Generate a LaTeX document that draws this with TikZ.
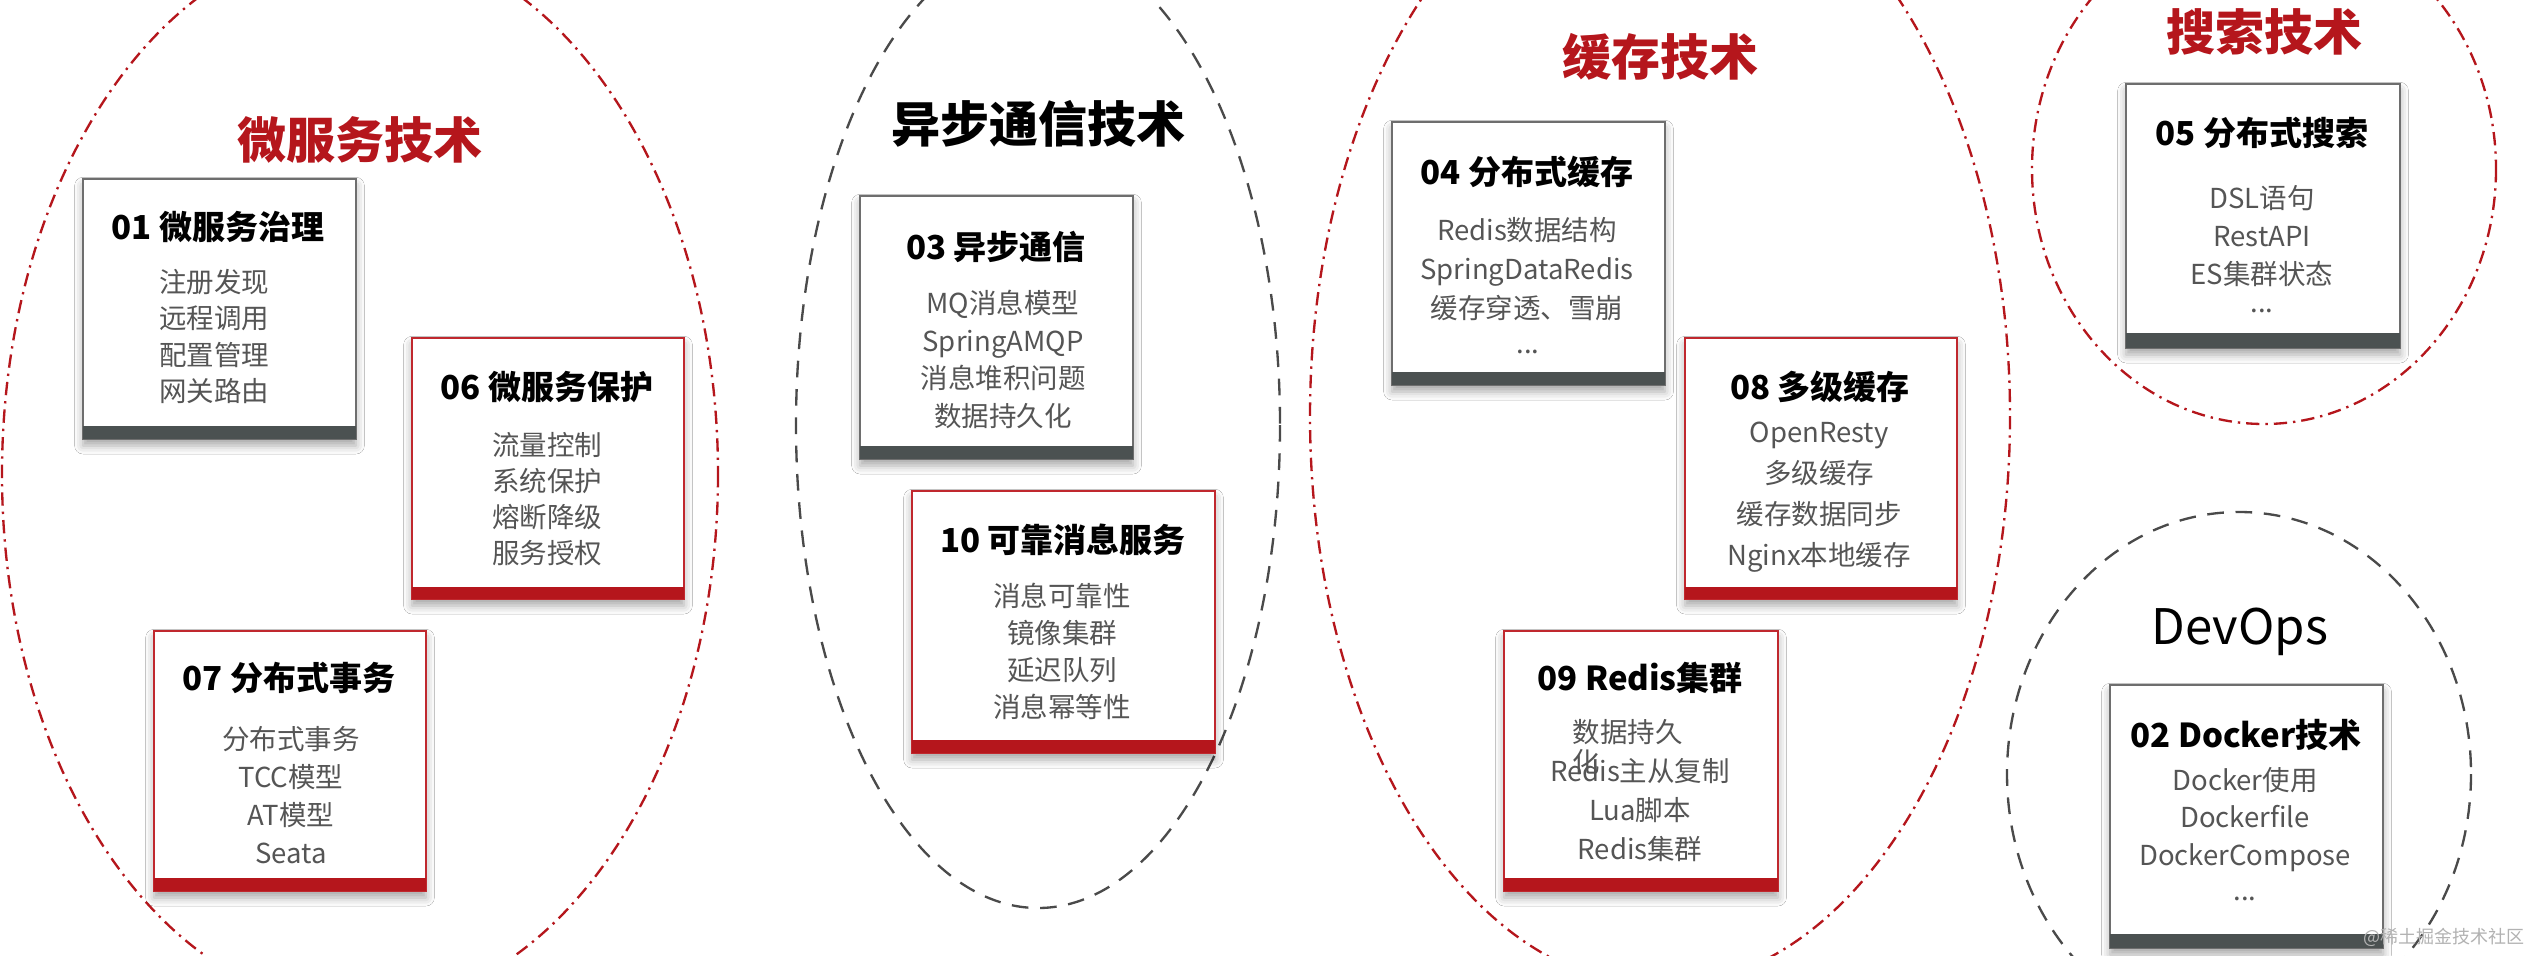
\documentclass[tikz,border=0pt]{standalone}
\usepackage{fontspec}
\setmainfont{Noto Sans CJK SC}
\usetikzlibrary{shadows.blur}
\definecolor{myred}{HTML}{B5161C}
\definecolor{boxred}{HTML}{C0282E}
\definecolor{bargray}{HTML}{4B5151}
\definecolor{boxgray}{HTML}{6E6E6E}
\definecolor{itemgray}{HTML}{555555}
\definecolor{dashgray}{HTML}{4A4A4A}
\begin{document}
\begin{tikzpicture}[x=0.3pt,y=-0.3pt,
  redring/.style={draw=myred, line width=0.7pt, dash pattern=on 4pt off 1.8pt on 0.7pt off 1.8pt},
  grayring/.style={draw=dashgray, line width=0.7pt, dash pattern=on 5pt off 3.5pt},
  secttitle/.style={font=\fontsize{14.7}{16}\selectfont\bfseries, inner sep=0},
  devops/.style={font=\fontsize{14.7}{16}\selectfont, inner sep=0},
  boxshadow/.style={blur shadow={shadow xshift=0pt, shadow yshift=-2pt, shadow blur radius=2.5pt, shadow opacity=35}},
  graybox/.style={draw=boxgray, line width=0.8pt, fill=white, boxshadow},
  redbox/.style={draw=boxred, line width=0.8pt, fill=white, boxshadow},
  graybar/.style={fill=bargray},
  redbar/.style={fill=myred},
  boxtitle/.style={font=\fontsize{9.9}{12}\selectfont\bfseries, inner sep=0},
  items/.style={font=\fontsize{8.25}{11.3}\selectfont, text=itemgray, align=center, inner sep=0},
  dots/.style={font=\fontsize{8.25}{11.3}\selectfont, text=itemgray, inner sep=0},
]
\useasboundingbox (0,0) rectangle (2530,956);
\clip (0,0) rectangle (2530,956);
\fill[white] (0,0) rectangle (2530,956);

% rings
\draw[redring] (360,474) ellipse [x radius=358, y radius=534];
\draw[grayring] (1038,425) ellipse [x radius=242, y radius=483];
\draw[redring] (1660,416) ellipse [x radius=350, y radius=570];
\draw[redring] (2264,169) ellipse [x radius=232, y radius=255];
\draw[grayring] (2239,774) ellipse [x radius=232, y radius=262];

% section titles
\node[secttitle, text=myred] (t1) at (360,140) {微服务技术};
\node[secttitle, text=black] (t2) at (1038,124) {异步通信技术};
\node[secttitle, text=myred] (t3) at (1660,57) {缓存技术};
\node[secttitle, text=myred] (t4) at (2264,32) {搜索技术};
\node[devops] (t5) at (2240,632) {DevOps};

% box 01
\path[graybox] (83,179) rectangle (356,439);
\fill[graybar] (83,425.5) rectangle (356,439);
\node[boxtitle] (b01t) at (218,227) {01 微服务治理};
\node[items, font=\fontsize{8.25}{10.9}\selectfont] (b01i) at (214,336.5) {注册发现\\远程调用\\配置管理\\网关路由};

% box 06
\path[redbox] (412,338) rectangle (684,599);
\fill[redbar] (412,586.5) rectangle (684,599);
\node[boxtitle] (b06t) at (547,387) {06 微服务保护};
\node[items, font=\fontsize{8.25}{10.8}\selectfont] (b06i) at (547,499) {流量控制\\系统保护\\熔断降级\\服务授权};

% box 07
\path[redbox] (154,631) rectangle (426,891);
\fill[redbar] (154,878) rectangle (426,891);
\node[boxtitle] (b07t) at (289,678) {07 分布式事务};
\node[items, font=\fontsize{8.25}{11.4}\selectfont] (b07i) at (291,795) {分布式事务\\TCC模型\\AT模型\\Seata};

% box 03
\path[graybox] (860,196) rectangle (1133,459);
\fill[graybar] (860,446) rectangle (1133,459);
\node[boxtitle] (b03t) at (996,247) {03 异步通信};
\node[items] (b03i) at (1003,359.5) {MQ消息模型\\SpringAMQP\\消息堆积问题\\数据持久化};

% box 10
\path[redbox] (912,491) rectangle (1215,753);
\fill[redbar] (912,740) rectangle (1215,753);
\node[boxtitle] (b10t) at (1063,540) {10 可靠消息服务};
\node[items, font=\fontsize{8.25}{11.1}\selectfont] (b10i) at (1062,651.5) {消息可靠性\\镜像集群\\延迟队列\\消息幂等性};

% box 04
\path[graybox] (1392,122) rectangle (1665,385);
\fill[graybar] (1392,372) rectangle (1665,385);
\node[boxtitle] (b04t) at (1527,172) {04 分布式缓存};
\node[items, font=\fontsize{8.25}{11.7}\selectfont] (b04i) at (1527,269) {Redis数据结构\\SpringDataRedis\\缓存穿透、雪崩};
\node[dots] (b04d) at (1528,352) {...};

% box 08
\path[redbox] (1685,338) rectangle (1957,599);
\fill[redbar] (1685,587) rectangle (1957,599);
\node[boxtitle] (b08t) at (1820,387) {08 多级缓存};
\node[items, font=\fontsize{8.25}{12.3}\selectfont] (b08i) at (1819,497.5) {OpenResty\\多级缓存\\缓存数据同步\\Nginx本地缓存};

% box 09
\path[redbox] (1504,631) rectangle (1778,891);
\fill[redbar] (1504,878) rectangle (1778,891);
\node[boxtitle] (b09t) at (1640,678) {09 Redis集群};
\node[items, anchor=west] (b09a) at (1572,732) {数据持久};
\node[items, anchor=west] (b09b) at (1572,762) {化};
\node[items, font=\fontsize{8.25}{11.7}\selectfont] (b09i) at (1640,810) {Redis主从复制\\Lua脚本\\Redis集群};

% box 05
\path[graybox] (2126,84) rectangle (2400,348);
\fill[graybar] (2126,333) rectangle (2400,348);
\node[boxtitle] (b05t) at (2262,133) {05 分布式搜索};
\node[items, font=\fontsize{8.25}{11.4}\selectfont] (b05i) at (2262,236) {DSL语句\\RestAPI\\ES集群状态};
\node[dots] (b05d) at (2262,311) {...};

% box 02
\path[graybox] (2110,685) rectangle (2383,948);
\fill[graybar] (2110,934) rectangle (2383,948);
\node[boxtitle] (b02t) at (2246,735) {02 Docker技术};
\node[items, font=\fontsize{8.25}{11.25}\selectfont] (b02i) at (2245,819.5) {Docker使用\\Dockerfile\\DockerCompose};
\node[dots] (b02d) at (2245,899) {...};

% watermark
\node[font=\fontsize{5.4}{6}\selectfont, text=black!30, anchor=east, inner sep=0] (wm) at (2525,937) {@稀土掘金技术社区};
\end{tikzpicture}
\end{document}
